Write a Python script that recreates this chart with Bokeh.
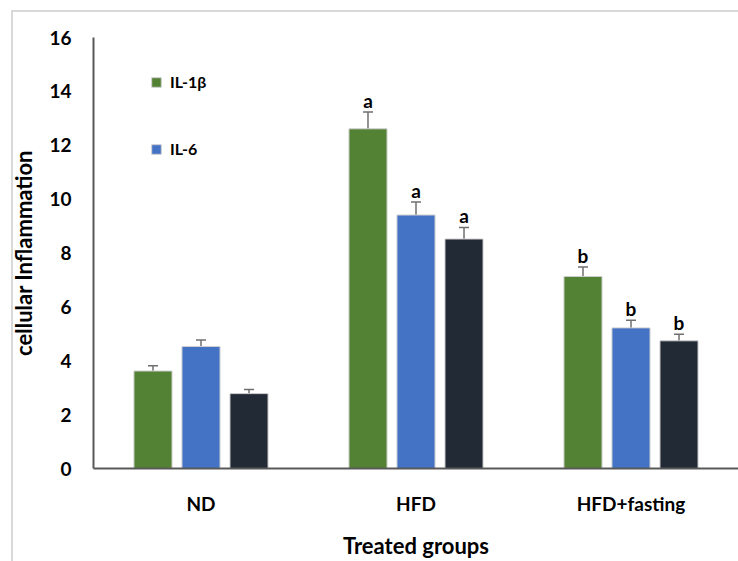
from bokeh.plotting import figure
from bokeh.models import (ColumnDataSource, FactorRange, Whisker, LabelSet,
                          Legend, LegendItem, TeeHead)
from bokeh.core.properties import value
from bokeh.transform import dodge
from bokeh.embed import file_html
from bokeh.resources import INLINE

# ---- data ----
groups = ["ND", "HFD", "HFD+fasting"]
il1b = [3.62, 12.61, 7.13]
il1b_err = [0.19, 0.62, 0.35]
il1b_sig = ["", "a", "b"]
il6 = [4.53, 9.41, 5.22]
il6_err = [0.24, 0.48, 0.28]
il6_sig = ["", "a", "b"]
tnf = [2.78, 8.52, 4.74]
tnf_err = [0.15, 0.43, 0.24]
tnf_sig = ["", "a", "b"]
series_names = ["IL-1β", "IL-6", "TNF-α"]
y_ticks = [0, 2, 4, 6, 8, 10, 12, 14, 16]

colors = ["#548235", "#4472C4", "#222A35"]
FONT = "Lato"

p = figure(x_range=FactorRange(*groups, range_padding=0), y_range=(0, 16),
           width=738, height=561, output_backend="svg", toolbar_location=None,
           min_border_left=93, min_border_right=0, min_border_top=37,
           min_border_bottom=90)
p.border_fill_color = None
p.styles = {"box-shadow": "inset 11px 10px 0 0 #ffffff, inset 13px 12px 0 0 #d9d9d9"}
p.outline_line_color = None
p.xgrid.grid_line_color = None
p.ygrid.grid_line_color = None

offsets = [-0.2233, 0.0, 0.2233]
width = 0.177
renderers = []
for vals, errs, sig, off, col in zip([il1b, il6, tnf], [il1b_err, il6_err, tnf_err],
                                    [il1b_sig, il6_sig, tnf_sig], offsets, colors):
    src = ColumnDataSource(dict(
        g=groups, v=vals,
        upper=[v + e for v, e in zip(vals, errs)],
        lower=[v - e for v, e in zip(vals, errs)],
        sig=sig))
    r = p.vbar(x=dodge("g", off, range=p.x_range), top="v", width=width, source=src,
               fill_color=col, line_color="#d0d0d0", line_width=1)
    renderers.append(r)
    w = Whisker(base=dodge("g", off, range=p.x_range), upper="upper", lower="lower",
                source=src, line_color="#6f6f6f", line_width=1.5,
                upper_head=TeeHead(size=10, line_color="#6f6f6f", line_width=1.5),
                lower_head=TeeHead(size=10, line_color="#6f6f6f", line_width=1.5))
    p.add_layout(w)
    lab = LabelSet(x=dodge("g", off, range=p.x_range), y="upper", text="sig", source=src,
                   text_align="center", text_baseline="alphabetic", y_offset=4,
                   text_font=value(FONT), text_font_style="bold",
                   text_font_size=value("19px"), text_color="black")
    p.add_layout(lab)

legend = Legend(items=[LegendItem(label=series_names[0], renderers=[renderers[0]]),
                       LegendItem(label=series_names[1], renderers=[renderers[1]])],
                location=(57, 310), orientation="vertical", spacing=48,
                glyph_width=12, glyph_height=12, label_height=12, padding=0, margin=0,
                border_line_alpha=0, background_fill_alpha=0, label_standoff=8,
                label_text_font=FONT, label_text_font_style="bold",
                label_text_font_size="16px", label_text_color="black")
p.add_layout(legend)

p.yaxis.ticker = y_ticks
for ax in (p.xaxis[0], p.yaxis[0]):
    ax.axis_line_color = "#595959"
    ax.axis_line_width = 2
    ax.major_tick_line_color = None
    ax.minor_tick_line_color = None
    ax.major_tick_out = 0
    ax.major_tick_in = 0
    ax.minor_tick_out = 0
    ax.major_label_text_font = FONT
    ax.major_label_text_font_style = "bold"
    ax.major_label_text_font_size = "19px"
    ax.major_label_text_color = "black"
    ax.axis_label_text_font = FONT
    ax.axis_label_text_font_style = "bold"
    ax.axis_label_text_font_size = "22px"
    ax.axis_label_text_color = "black"

p.xaxis.axis_label = "Treated groups"
p.yaxis.axis_label = "cellular Inflammation"
p.xaxis.major_label_standoff = 23
p.xaxis.axis_label_standoff = 14
p.yaxis.major_label_standoff = 22
p.yaxis.axis_label_standoff = 9

open("out.html", "w").write(file_html(p, INLINE))
